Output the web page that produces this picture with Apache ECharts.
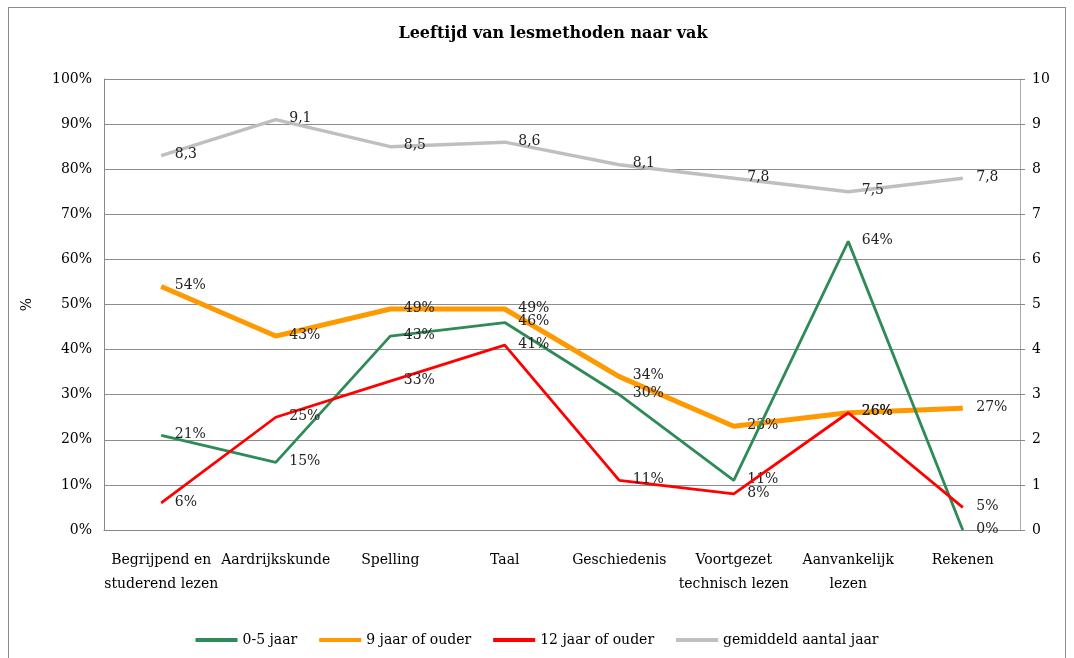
<!DOCTYPE html>
<html>
<head>
<meta charset="utf-8">
<script src="https://cdn.jsdelivr.net/npm/echarts@6/dist/echarts.min.js"></script>
<style>
  html, body { margin: 0; padding: 0; background: #fff; }
  #frame { position: absolute; left: 8px; top: 7px; width: 1058px; height: 660px; border: 1px solid #8c8c8c; box-sizing: border-box; }
  #chart { position: absolute; left: 0; top: 0; width: 1074px; height: 658px; }
</style>
</head>
<body>
<div id="frame"></div>
<div id="chart"></div>
<script>
// vakken
const categories = ['Begrijpend en\nstuderend lezen', 'Aardrijkskunde', 'Spelling', 'Taal',
  'Geschiedenis', 'Voortgezet\ntechnisch lezen', 'Aanvankelijk\nlezen', 'Rekenen'];
const jong = [21, 15, 43, 46, 30, 11, 64, 0];          // 0-5 jaar
const negenPlus = [54, 43, 49, 49, 34, 23, 26, 27];    // 9 jaar of ouder
const twaalfPlus = [6, 25, 33, 41, 11, 8, 26, 5];      // 12 jaar of ouder
const gemiddeld = [8.3, 9.1, 8.5, 8.6, 8.1, 7.8, 7.5, 7.8];
const leftTicks = [0, 10, 20, 30, 40, 50, 60, 70, 80, 90, 100];
const rightTicks = [0, 1, 2, 3, 4, 5, 6, 7, 8, 9, 10];

const serif = 'DejaVu Serif';
const fs = 14;
const chart = echarts.init(document.getElementById('chart'));

function lbl(fmt) {
  return { show: true, position: 'right', distance: 13, offset: [0, -1], color: '#222',
    fontFamily: serif, fontSize: fs, formatter: fmt };
}
const pct = p => p.value + '%';

function lineSeries(name, data, color, width, axis, fmt, z) {
  return {
    name: name, type: 'line', data: data, yAxisIndex: axis,
    symbol: 'circle', symbolSize: 1, showSymbol: true,
    lineStyle: { color: color, width: width }, itemStyle: { color: color },
    label: lbl(fmt), z: z
  };
}

chart.setOption({
  animation: false,
  textStyle: { fontFamily: serif },
  title: {
    text: 'Leeftijd van lesmethoden naar vak', left: 548, top: 21, textAlign: 'center',
    textStyle: { fontFamily: serif, fontWeight: 'bold', fontSize: 16, color: '#000' }
  },
  legend: {
    bottom: 6, left: 'center', itemWidth: 42, itemHeight: 4, itemGap: 22,
    textStyle: { fontFamily: serif, fontSize: fs, color: '#000' },
    data: [
      { name: '0-5 jaar', icon: 'rect' },
      { name: '9 jaar of ouder', icon: 'rect' },
      { name: '12 jaar of ouder', icon: 'rect' },
      { name: 'gemiddeld aantal jaar', icon: 'rect' }
    ]
  },
  grid: { left: 104, right: 54, top: 79, bottom: 128 },
  xAxis: {
    type: 'category', data: categories, boundaryGap: true,
    axisLine: { lineStyle: { color: '#888' } },
    axisTick: { show: false },
    axisLabel: { color: '#000', fontSize: fs, fontFamily: serif, lineHeight: 24, margin: 18, interval: 0 }
  },
  yAxis: [
    {
      type: 'value', min: 0, max: 100, interval: 10,
      name: '%', nameLocation: 'middle', nameGap: 70, nameRotate: 90,
      nameTextStyle: { color: '#000', fontSize: fs, fontFamily: serif },
      axisLine: { show: true, lineStyle: { color: '#888' } },
      axisTick: { show: false },
      splitLine: { lineStyle: { color: '#8c8c8c' } },
      axisLabel: { color: '#000', fontSize: fs, fontFamily: serif, margin: 12,
        formatter: v => leftTicks.includes(v) ? v + '%' : '' }
    },
    {
      type: 'value', min: 0, max: 10, interval: 1,
      axisLine: { show: true, lineStyle: { color: '#aaa' } },
      axisTick: { show: true, length: 5, lineStyle: { color: '#888' } },
      splitLine: { show: false },
      axisLabel: { color: '#000', fontSize: fs, fontFamily: serif, margin: 12,
        formatter: v => rightTicks.includes(v) ? String(v) : '' }
    }
  ],
  series: [
    lineSeries('0-5 jaar', jong, '#2e8b57', 2.8, 0, pct, 3),
    lineSeries('9 jaar of ouder', negenPlus, '#ff9900', 5, 0, pct, 2),
    lineSeries('12 jaar of ouder', twaalfPlus, '#ff0000', 2.8, 0, pct, 4),
    lineSeries('gemiddeld aantal jaar', gemiddeld, '#bfbfbf', 3.5, 1,
      p => p.value.toFixed(1).replace('.', ','), 1)
  ]
});
</script>
</body>
</html>
